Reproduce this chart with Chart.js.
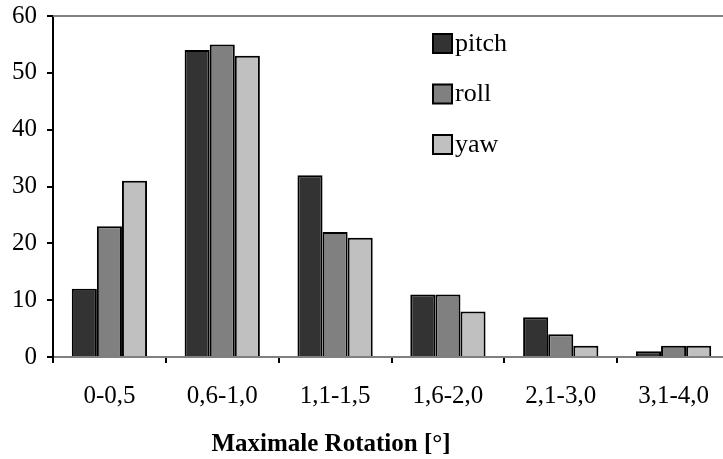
<!DOCTYPE html>
<html>
<head>
<meta charset="utf-8">
<script src="https://cdn.jsdelivr.net/npm/chart.js@4"></script>
<style>
    html, body { margin: 0; padding: 0; background: #ffffff; overflow: hidden; }
    #wrap { width: 736px; height: 459px; }
</style>
</head>
<body>
<div id="wrap"><canvas id="rotChart" width="736" height="459"></canvas></div>
<script>
    // Daten
    const categories = ['0-0,5', '0,6-1,0', '1,1-1,5', '1,6-2,0', '2,1-3,0', '3,1-4,0'];
    const pitchValues = [12, 54, 32, 11, 7, 1];
    const rollValues = [23, 55, 22, 11, 4, 2];
    const yawValues = [31, 53, 21, 8, 2, 2];
    const seriesNames = ['pitch', 'roll', 'yaw'];
    const seriesColors = ['#333333', '#808080', '#c0c0c0'];
    const axisTitle = 'Maximale Rotation [°]';

    const FONT = "'Liberation Serif', 'Times New Roman', serif";

    // graue Linie oben am Diagrammbereich
    const topBorder = {
        id: 'topBorder',
        afterDraw: (chart) => {
            const { ctx, chartArea } = chart;
            ctx.save();
            ctx.strokeStyle = '#808080';
            ctx.lineWidth = 2;
            ctx.beginPath();
            ctx.moveTo(chartArea.left, chartArea.top);
            ctx.lineTo(chartArea.right, chartArea.top);
            ctx.stroke();
            ctx.restore();
        },
    };

    // Legende rechts oben im Diagrammbereich
    const boxLegend = {
        id: 'boxLegend',
        afterDraw: (chart) => {
            const ctx = chart.ctx;
            ctx.save();
            chart.data.datasets.forEach((ds, i) => {
                const cy = 44 + i * 50.5;
                ctx.fillStyle = ds.backgroundColor;
                ctx.fillRect(433, cy - 10, 19, 19);
                ctx.strokeStyle = '#000000';
                ctx.lineWidth = 2;
                ctx.strokeRect(433, cy - 10, 19, 19);
                ctx.fillStyle = '#000000';
                ctx.font = '26px ' + FONT;
                ctx.textAlign = 'left';
                ctx.textBaseline = 'middle';
                ctx.fillText(ds.label, 455, cy);
            });
            ctx.restore();
        },
    };

    // Achsentitel (nicht mittig zum Diagrammbereich)
    const xTitle = {
        id: 'xTitle',
        afterDraw: (chart) => {
            const ctx = chart.ctx;
            ctx.save();
            ctx.fillStyle = '#000000';
            ctx.font = 'bold 25px ' + FONT;
            ctx.textAlign = 'center';
            ctx.textBaseline = 'alphabetic';
            ctx.fillText(axisTitle, 331, 451);
            ctx.restore();
        },
    };

    const valueLists = [pitchValues, rollValues, yawValues];

    new Chart(document.getElementById('rotChart'), {
        type: 'bar',
        data: {
            labels: categories,
            datasets: valueLists.map((values, i) => ({
                label: seriesNames[i],
                data: values,
                backgroundColor: seriesColors[i],
                borderColor: '#000000',
                borderWidth: 2,
                categoryPercentage: 0.667,
                barPercentage: 1.0,
            })),
        },
        options: {
            responsive: false,
            animation: false,
            devicePixelRatio: 1,
            layout: { padding: { left: 0, right: 6, top: 16, bottom: 0 } },
            plugins: {
                legend: { display: false },
                tooltip: { enabled: false },
            },
            scales: {
                x: {
                    afterFit: (scale) => { scale.height = 102; },
                    grid: {
                        offset: true,
                        drawOnChartArea: false,
                        drawTicks: true,
                        tickLength: 6,
                        color: '#000000',
                        lineWidth: 2,
                    },
                    border: { color: '#808080', width: 2 },
                    ticks: {
                        color: '#000000',
                        font: { family: FONT, size: 25 },
                        padding: 18,
                        maxRotation: 0,
                    },
                },
                y: {
                    min: 0,
                    max: 60,
                    afterFit: (scale) => {
                        scale.width = 53;
                        scale.paddingTop = 0;
                        scale.paddingBottom = 0;
                    },
                    grid: {
                        drawOnChartArea: false,
                        drawTicks: true,
                        tickLength: 6,
                        color: '#000000',
                        lineWidth: 2,
                    },
                    border: { color: '#000000', width: 2 },
                    ticks: {
                        stepSize: 10,
                        color: '#000000',
                        font: { family: FONT, size: 25 },
                        padding: 10,
                    },
                },
            },
        },
        plugins: [topBorder, boxLegend, xTitle],
    });
</script>
</body>
</html>
